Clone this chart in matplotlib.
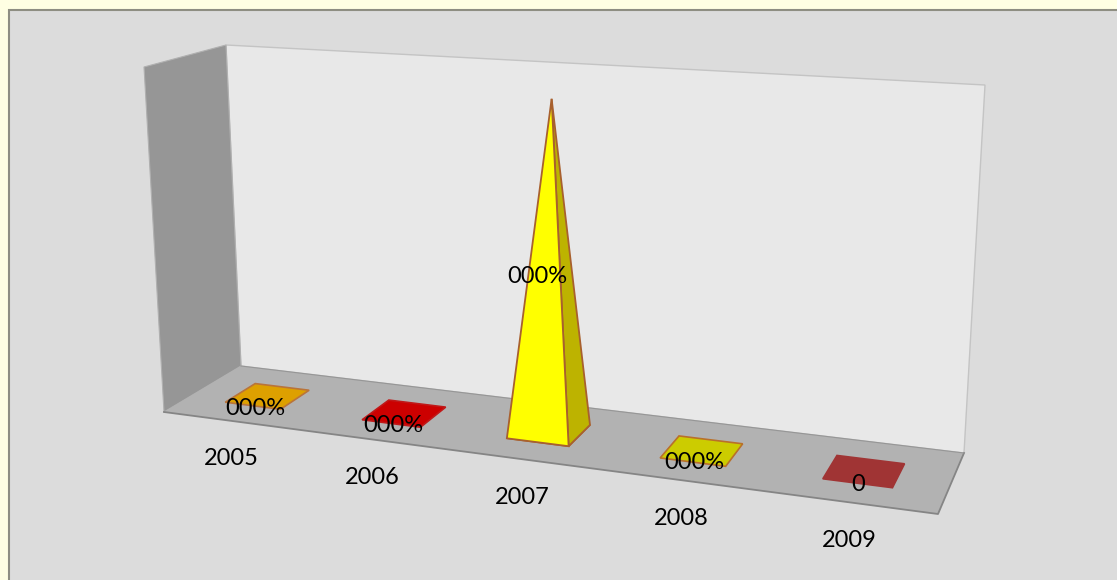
import numpy as np
import matplotlib
matplotlib.use('Agg')
import matplotlib.pyplot as plt
from matplotlib.patches import Polygon, Rectangle

# chart data
years = ['2005', '2006', '2007', '2008', '2009']
values = [0.0, 0.0, 1.0, 0.0, 0.0]
value_labels = ['000%', '000%', '000%', '000%', '0']
colors = ['#DDA000', '#CC0000', '#FFFF00', '#CCCC00', '#A03434']
side_colors = ['#B88500', '#A80000', '#BDB300', '#A8A800', '#842A2A']
edge_colors = ['#B9743A', '#C01818', '#A8602E', '#B9702A', '#A03434']
axis_max = 1.035

# where the 3d box sits on the picture (pixels)
floor_front_left = (164, 412)
floor_back_left = (241, 366)
floor_back_right = (964, 453)
floor_front_right = (938, 514)
wall_top_left = (226, 45)
wall_top_right = (985, 85)
side_top_front = (144, 67)
bar_half_width = 0.041
bar_shift = -0.003
bar_depth = (0.30, 0.70)


def homography(dst):
    src = [(0, 1), (0, 0), (1, 0), (1, 1)]
    A, b = [], []
    for (u, v), (x, y) in zip(src, dst):
        A.append([u, v, 1, 0, 0, 0, -u * x, -v * x])
        A.append([0, 0, 0, u, v, 1, -u * y, -v * y])
        b += [x, y]
    return np.append(np.linalg.solve(np.array(A, float), np.array(b, float)), 1).reshape(3, 3)


H = homography([floor_front_left, floor_back_left, floor_back_right, floor_front_right])


def project(u, v, val=0.0):
    p = H @ np.array([u, v, 1.0])
    x, y = p[0] / p[2], p[1] / p[2]
    # height direction taken from the wall edges
    dl = np.subtract(wall_top_left, floor_back_left)
    dr = np.subtract(wall_top_right, floor_back_right)
    d = dl + (dr - dl) * u
    return (x + d[0] * val / axis_max, y + d[1] * val / axis_max)


fig = plt.figure(figsize=(11.17, 5.80), dpi=100, facecolor='#FFFFE3')
ax = fig.add_axes([0, 0, 1, 1])
ax.set_xlim(0, 1117)
ax.set_ylim(580, 0)
ax.axis('off')

ax.add_patch(Rectangle((8.5, 10), 1120, 580, fc='#DCDCDC', ec='#8E8E82', lw=1.5))

# walls and floor
ax.add_patch(Polygon([wall_top_left, wall_top_right, floor_back_right, floor_back_left],
                     fc='#E8E8E8', ec='#C4C4C4', lw=1))
ax.add_patch(Polygon([side_top_front, wall_top_left, floor_back_left, floor_front_left],
                     fc='#969696', ec='#B0B0B0', lw=0.8))
ax.add_patch(Polygon([floor_front_left, floor_back_left, floor_back_right, floor_front_right],
                     fc='#B2B2B2', ec='none'))
ax.plot(*zip(floor_front_left, floor_front_right, floor_back_right), color='#858585', lw=1.3)
ax.plot(*zip(floor_back_left, floor_back_right), color='#969696', lw=0.8)

# pyramids
label_offset = [(-12, 12), (-11, 12), (-12, -155), (-8, 12), (-6, 13)]
tick_offset = (0, 38)
n = len(years)
for i, val in enumerate(values):
    uc = (i + 0.5) / n + bar_shift
    u0, u1 = uc - bar_half_width, uc + bar_half_width
    v0, v1 = bar_depth
    fl, fr = project(u0, v1), project(u1, v1)
    br, bl = project(u1, v0), project(u0, v0)
    centre = project(uc, (v0 + v1) / 2)
    ax.add_patch(Polygon([fl, fr, br, bl], fc=colors[i], ec=edge_colors[i], lw=1.2, zorder=3))
    if val > 0:
        apex = project(uc, (v0 + v1) / 2, val)
        ax.add_patch(Polygon([fr, br, apex], fc=side_colors[i], ec=edge_colors[i], lw=1.3, zorder=4))
        ax.add_patch(Polygon([fl, fr, apex], fc=colors[i], ec=edge_colors[i], lw=1.3, zorder=5))
    ax.text(centre[0] + label_offset[i][0], centre[1] + label_offset[i][1], value_labels[i],
            family='Lato', fontsize=17, color='black', ha='center', va='center', zorder=6)
    tx, ty = project((i + 0.5) / n, 1)
    ax.text(tx + tick_offset[0], ty + tick_offset[1], years[i],
            family='Lato', fontsize=17, color='black', ha='center', va='center', zorder=6)

fig.savefig('out.png', dpi=100, facecolor=fig.get_facecolor())
